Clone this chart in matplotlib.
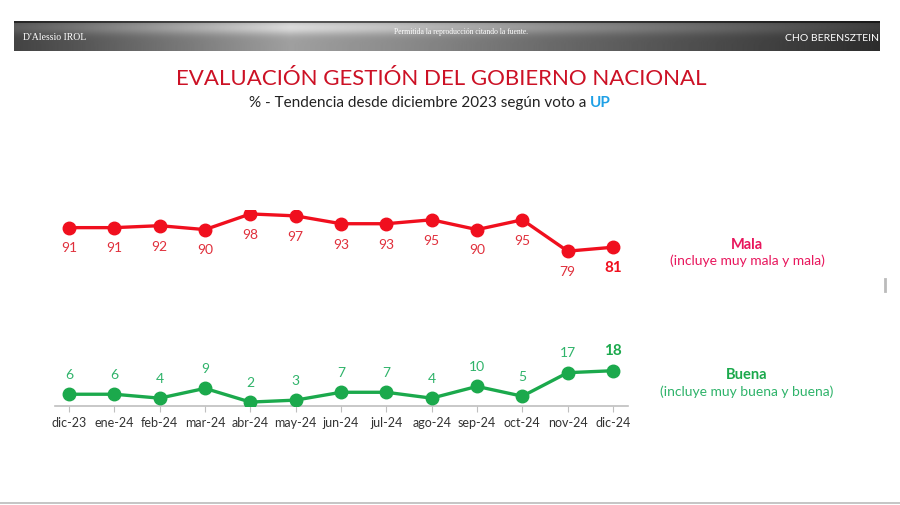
import matplotlib
matplotlib.use("Agg")
import matplotlib.pyplot as plt
import numpy as np

plt.rcParams["font.family"] = ["Lato", "DejaVu Sans"]

months = ["dic-23", "ene-24", "feb-24", "mar-24", "abr-24", "may-24", "jun-24",
          "jul-24", "ago-24", "sep-24", "oct-24", "nov-24", "dic-24"]
mala = [91, 91, 92, 90, 98, 97, 93, 93, 95, 90, 95, 79, 81]
buena = [6, 6, 4, 9, 2, 3, 7, 7, 4, 10, 5, 17, 18]

RED = "#f00f1e"
RED_TXT = "#e0303c"
GREEN = "#1ba94c"
GREEN_TXT = "#2fb36a"
PINK = "#e8175d"

W, H = 900, 505
fig = plt.figure(figsize=(W / 100, H / 100), dpi=100)


def fx(px):
    return px / W


def fy(py):
    return 1 - py / H


# header band with a metallic gradient
hdr = fig.add_axes([fx(14), fy(51), fx(880 - 14), (51 - 21) / H])
xs = np.linspace(14, 880, 700)
row = np.interp(xs, [14, 80, 200, 290, 400, 550, 700, 880],
                [0.33, 0.42, 0.62, 0.78, 0.68, 0.52, 0.38, 0.22])
ys = np.linspace(0, 1, 30)[:, None]
shade = 0.8 + 0.3 * np.exp(-((ys - 0.2) / 0.25) ** 2)
grad = np.clip(row[None, :] * shade, 0, 1)
grad[:2, :] *= 0.45
hdr.imshow(grad, cmap="gray", aspect="auto", vmin=0, vmax=1, extent=[0, 1, 0, 1])
hdr.set_axis_off()
hdr.text(0.01, 0.45, "D'Alessio IROL", color="white", fontsize=7, va="center",
         family=["Liberation Serif", "DejaVu Serif"])
hdr.text(0.516, 0.62, "Permitida la reproducción citando la fuente.", color="white",
         fontsize=5.5, va="center", ha="center", family=["Liberation Serif", "DejaVu Serif"])
hdr.text(0.999, 0.42, "CHO BERENSZTEIN", color="white", fontsize=7.5, va="center", ha="right")

# titles
fig.text(fx(441), fy(79), "EVALUACIÓN GESTIÓN DEL GOBIERNO NACIONAL", color="#cc1125",
         fontsize=16, ha="center", va="center")
fig.text(fx(590), fy(103), "% - Tendencia desde diciembre 2023 según voto a ",
         color="#222222", fontsize=11, ha="right", va="center")
fig.text(fx(590), fy(103), "UP", color="#1ea0e6", fontsize=11, fontweight="bold",
         ha="left", va="center")

# chart
ax = fig.add_axes([fx(55), fy(406), fx(628 - 55), (406 - 210) / H])
x = np.arange(len(months))
ax.plot(x, mala, color=RED, lw=2.4, marker="o", ms=9, zorder=3)
ax.plot(x, buena, color=GREEN, lw=2.4, marker="o", ms=9, zorder=3)
ax.set_xlim(-14 / 45.3, 12 + 15 / 45.3)
ax.set_ylim(0, 100)

last = len(months) - 1
for i, v in enumerate(mala):
    bold = i == last
    ax.annotate(str(v), (i, v), xytext=(0, -15), textcoords="offset points",
                ha="center", va="center", color=RED if bold else RED_TXT,
                fontsize=11 if bold else 10, fontweight="bold" if bold else "normal")
for i, v in enumerate(buena):
    bold = i == last
    ax.annotate(str(v), (i, v), xytext=(0, 14), textcoords="offset points",
                ha="center", va="center", color=GREEN if bold else GREEN_TXT,
                fontsize=11 if bold else 10, fontweight="bold" if bold else "normal")

for s in ["top", "right", "left"]:
    ax.spines[s].set_visible(False)
ax.spines["bottom"].set_color("#bfbfbf")
ax.spines["bottom"].set_linewidth(1.2)
ax.set_yticks([])
ax.set_xticks(x)
ax.set_xticklabels(months, color="#333333", fontsize=9)
ax.tick_params(axis="x", colors="#bfbfbf", length=4, pad=4, labelcolor="#333333")

# series legends
fig.text(fx(747), fy(245), "Mala", color=PINK, fontsize=10.5, fontweight="bold",
         ha="center", va="center")
fig.text(fx(747), fy(261), "(incluye muy mala y mala)", color=PINK, fontsize=10,
         ha="center", va="center")
fig.text(fx(747), fy(375), "Buena", color=GREEN, fontsize=10.5, fontweight="bold",
         ha="center", va="center")
fig.text(fx(747), fy(392), "(incluye muy buena y buena)", color=GREEN_TXT, fontsize=10,
         ha="center", va="center")

# decorative bits
fig.add_artist(plt.Line2D([fx(885), fx(885)], [fy(279), fy(291)], color="#bbbbbb", lw=2))
fig.add_artist(plt.Line2D([0, 1], [fy(503), fy(503)], color="#bbbbbb", lw=1.2))

fig.savefig("out.png", dpi=100)
